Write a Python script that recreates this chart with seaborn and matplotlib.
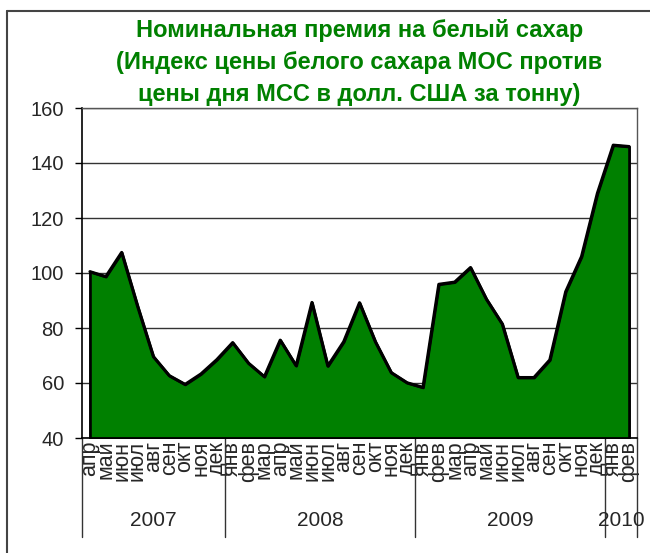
import matplotlib
matplotlib.use("Agg")
import matplotlib.pyplot as plt
import matplotlib.transforms as mtransforms
from matplotlib.lines import Line2D
import seaborn as sns
import pandas as pd

# monthly values, apr 2007 .. feb 2010
months = ["апр", "май", "июн", "июл", "авг", "сен", "окт", "ноя", "дек",
          "янв", "фев", "мар", "апр", "май", "июн", "июл", "авг", "сен", "окт", "ноя", "дек",
          "янв", "фев", "мар", "апр", "май", "июн", "июл", "авг", "сен", "окт", "ноя", "дек",
          "янв", "фев"]
premium = [100.5, 98.7, 107.5, 88.0, 69.6, 62.7, 59.5, 63.3, 68.5,
           74.7, 67.2, 62.3, 75.6, 66.3, 89.3, 66.2, 75.0, 89.2, 75.0, 63.8, 60.1,
           58.4, 95.9, 96.7, 102.0, 90.5, 81.5, 62.0, 62.0, 68.4, 93.2, 106.0, 129.0,
           146.5, 146.0]
years = ["2007", "2008", "2009", "2010"]
months_per_year = [9, 12, 12, 2]

title_lines = ["Номинальная премия на белый сахар",
               "(Индекс цены белого сахара МОС против",
               "цены дня МСС в долл. США за тонну)"]

df = pd.DataFrame({"pos": range(len(premium)), "value": premium})

sns.set_style("white")
plt.rcParams['font.family'] = ['Liberation Sans', 'DejaVu Sans']

green = "#008000"
W, H = 650, 553
fig = plt.figure(figsize=(W / 100, H / 100), dpi=100)
ax = fig.add_axes([82 / W, 1 - 438 / H, (637 - 82) / W, (438 - 108) / H])

ax.fill_between(df["pos"], 40, df["value"], facecolor=green, edgecolor="black",
                linewidth=2, zorder=3)
sns.lineplot(data=df, x="pos", y="value", color="black", linewidth=2.2, ax=ax, zorder=4)

ax.set_xlim(-0.5, len(premium) - 0.5)
ax.set_ylim(40, 160)
ax.set_yticks(range(40, 161, 20))
ax.yaxis.grid(True, color="#333333", linewidth=1)
ax.set_axisbelow(True)
ax.set_xlabel("")
ax.set_ylabel("")

ax.set_xticks(range(len(months)))
ax.set_xticklabels(months, rotation=90, fontsize=15.5)
ax.tick_params(axis="x", length=0, pad=2)
ax.tick_params(axis="y", length=5, width=1, color="black", pad=8, labelsize=14.5,
               left=True)

for side in ["left", "bottom"]:
    ax.spines[side].set_color("black")
    ax.spines[side].set_linewidth(1.2)
for side in ["top", "right"]:
    ax.spines[side].set_color("#555555")
    ax.spines[side].set_linewidth(1)

# year groups under the month labels
trans = mtransforms.blended_transform_factory(ax.transData, ax.transAxes)
line_bottom = -(537 - 438) / (438 - 108)
start = 0
bounds = [-0.5]
for year, n in zip(years, months_per_year):
    center = start + (n - 1) / 2
    ax.text(center, -(521 - 438) / (438 - 108), year, transform=trans,
            ha="center", va="center", fontsize=15)
    start += n
    bounds.append(start - 0.5)
for b in bounds:
    ax.add_line(Line2D([b, b], [0, line_bottom], transform=trans, color="#333333",
                       linewidth=1, clip_on=False))

# title, three centred lines over the plot area
cx = (82 + 637) / 2 / W
for line, y in zip(title_lines, [30, 62, 94]):
    fig.text(cx, 1 - y / H, line, ha="center", va="center", color=green,
             fontsize=17, fontweight="bold")

# chart frame (left and top edges visible)
fig.add_artist(Line2D([7 / W, 7 / W], [0, 1 - 11 / H], transform=fig.transFigure,
                      color="#444444", linewidth=1.5))
fig.add_artist(Line2D([7 / W, 1], [1 - 11 / H, 1 - 11 / H], transform=fig.transFigure,
                      color="#444444", linewidth=1.5))

fig.savefig("out.png", dpi=100)
